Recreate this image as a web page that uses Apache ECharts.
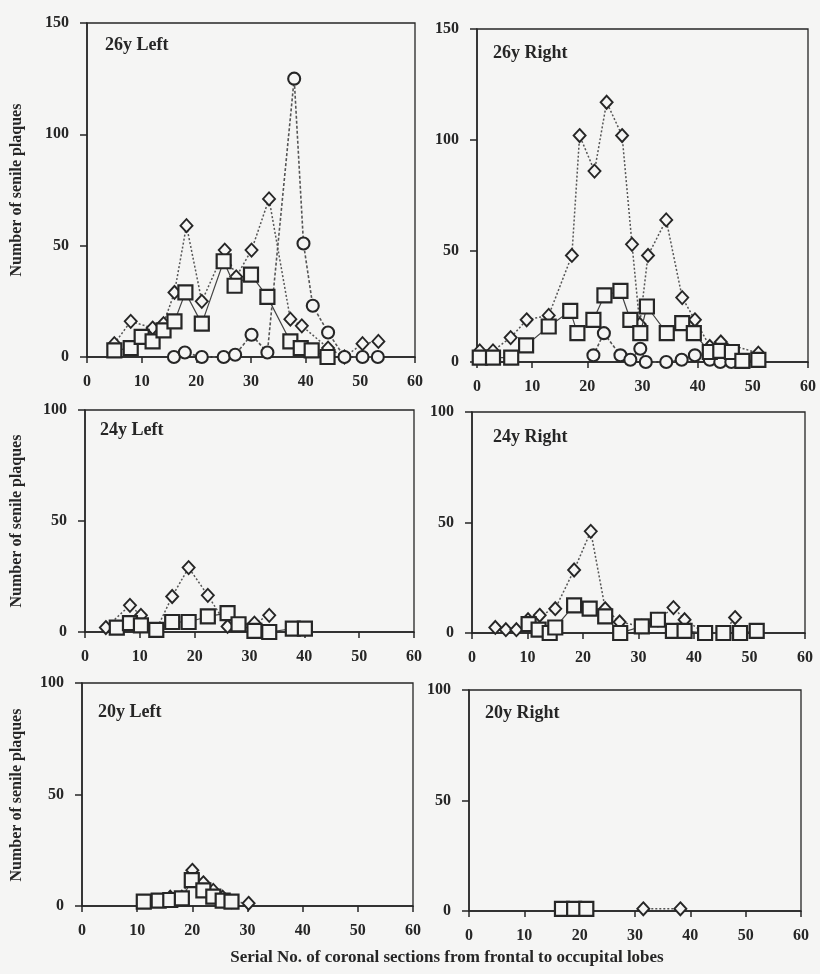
<!DOCTYPE html>
<html>
<head>
<meta charset="utf-8">
<script src="https://cdn.jsdelivr.net/npm/echarts@6/dist/echarts.min.js"></script>
<style>
  html, body { margin: 0; padding: 0; background: #f5f5f4; }
  #chart { width: 820px; height: 974px; }
</style>
</head>
<body>
<div id="chart"></div>
<script>
// [serial no., plaque count] per series
const left26Square = [[5,3],[8,4],[10,9],[12,7],[14,12],[16,16],[18,29],[21,15],[25,43],[27,32],[30,37],[33,27],[37.2,7],[39.1,4],[41.1,3],[44,0]]
const left26Diamond = [[5,6],[8,16],[12,13],[14,15],[16,29],[18.2,59],[21,25],[25.2,48],[27.3,36],[30.1,48],[33.3,71],[37.2,17],[39.3,14],[44.1,4],[47.1,0],[50.4,6],[53.3,7]]
const left26Circle = [[15.9,0],[17.9,2],[21,0],[25,0],[27.1,1],[30.1,10],[33,2],[37.9,125],[39.6,51],[41.3,23],[44.1,11],[47.1,0],[50.4,0],[53.2,0]]

const right26Square = [[0.5,2],[2.9,2],[6.2,2],[8.9,7.5],[13,16],[16.9,23],[18.2,13],[21.1,19],[23.1,30],[26,32],[27.8,19],[29.6,13],[30.8,25],[34.4,13],[37.2,17.5],[39.3,13],[42.2,4.5],[44.1,5],[46.2,4.5],[48.1,0.5],[51,1]]
const right26Diamond = [[0.5,5],[2.9,5],[6.1,11],[9,19],[13,21],[17.2,48],[18.6,102],[21.3,86],[23.5,117],[26.3,102],[28.1,53],[29.5,17],[31,48],[34.3,64],[37.2,29],[39.5,19],[42.2,7],[44.2,9],[51,4]]
const right26Circle = [[21.1,3],[23,13],[26,3],[27.8,1],[29.6,6],[30.6,0],[34.3,0],[37.1,1],[39.5,3],[42.2,1],[44.1,0],[46.1,0]]

const left24Square = [[5.8,2],[8.2,4],[10.2,3],[13,1],[15.9,4.5],[18.9,4.5],[22.4,7],[26,8.5],[28,3.5],[30.9,0.5],[33.6,0],[37.9,1.5],[40.1,1.5]]
const left24Diamond = [[3.8,2],[8.2,12],[10.2,7.5],[13,1],[15.9,16],[18.9,29],[22.4,16.5],[26,2.5],[30.9,4],[33.6,7.5]]

const right24Square = [[10.2,4],[12,1.5],[14,0],[15,2.5],[18.4,12.5],[21.2,11],[24,7.5],[26.7,0],[30.6,3],[33.5,6],[36.2,1],[38.3,1],[42,0],[45.3,0],[48.3,0],[51.3,1]]
const right24Diamond = [[4.2,2.5],[6.1,1.5],[8,1.5],[10.1,6],[12.2,8],[15,11],[18.4,28.5],[21.4,46],[24,11],[26.6,5],[30.6,3],[33.5,6],[36.3,11.5],[38.3,6],[42,0],[45.3,0],[47.4,7]]

const left20Square = [[11.2,2],[13.9,2.4],[16,2.7],[18.1,3.4],[19.9,11.6],[22,7],[23.8,4.2],[25.5,2.4],[27.1,2]]
const left20Diamond = [[16,4],[18.1,4],[20,16],[22,10.4],[23.8,7],[25.5,4],[27.1,2],[30.2,1.2]]

const right20Square = [[16.8,1],[19,1],[21.2,1]]
const right20Diamond = [[31.5,1],[38.2,1]]

const panelTitles = ['26y Left', '26y Right', '24y Left', '24y Right', '20y Left', '20y Right']
const yMax = [150, 150, 100, 100, 100, 100]
const xTicks = [0, 10, 20, 30, 40, 50, 60]

const SERIF = 'Liberation Serif'
const INK = '#262626'
const PAPER = '#f5f5f4'

// 画布布局 (left, top, width, height)
const grids = [
  { left: 87, top: 23, width: 328, height: 334 },
  { left: 477, top: 29, width: 331, height: 333 },
  { left: 85, top: 410, width: 329, height: 222 },
  { left: 472, top: 412, width: 333, height: 221 },
  { left: 82, top: 683, width: 331, height: 223 },
  { left: 469, top: 690, width: 332, height: 221 }
]
const titlePos = [[105, 36], [493, 44], [100, 421], [493, 428], [98, 703], [485, 704]]

const labelStyle = { fontFamily: SERIF, fontWeight: 'bold', fontSize: 16, color: INK }

const makeSeries = (idx, data, kind) => {
  const base = {
    type: 'line',
    xAxisIndex: idx,
    yAxisIndex: idx,
    data: data,
    clip: false,
    animation: false,
    showSymbol: true,
    itemStyle: { color: PAPER, borderColor: INK, borderWidth: 2.2 }
  }
  if (kind === 'square') {
    return Object.assign(base, {
      symbol: 'rect', symbolSize: 14, z: 4,
      lineStyle: { color: '#444', width: 1.2, type: 'solid' }
    })
  }
  if (kind === 'diamond') {
    return Object.assign(base, {
      symbol: 'diamond', symbolSize: [12, 13], z: 2,
      itemStyle: { color: PAPER, borderColor: INK, borderWidth: 1.9 },
      lineStyle: { color: '#555', width: 1.5, type: [2, 2] }
    })
  }
  return Object.assign(base, {
    symbol: 'circle', symbolSize: 12, z: 3,
    itemStyle: { color: PAPER, borderColor: INK, borderWidth: 2.1 },
    lineStyle: { color: '#555', width: 1.6, type: [3, 2] }
  })
}

const getChartOption = () => {
  const xAxis = grids.map((g, i) => ({
    type: 'value', gridIndex: i, min: 0, max: 60, interval: 10,
    axisLine: { show: true, lineStyle: { color: INK, width: 1.5 } },
    axisTick: { show: true, length: 6, lineStyle: { color: INK, width: 1.5 } },
    axisLabel: Object.assign({ margin: 17 }, labelStyle),
    splitLine: { show: false }
  }))
  const yAxis = grids.map((g, i) => ({
    type: 'value', gridIndex: i, min: 0, max: yMax[i], interval: 50,
    axisLine: { show: true, lineStyle: { color: INK, width: 1.5 } },
    axisTick: { show: true, length: 7, lineStyle: { color: INK, width: 1.5 } },
    axisLabel: Object.assign({ margin: 18 }, labelStyle),
    splitLine: { show: false }
  }))
  const series = [
    makeSeries(0, left26Diamond, 'diamond'), makeSeries(0, left26Circle, 'circle'), makeSeries(0, left26Square, 'square'),
    makeSeries(1, right26Diamond, 'diamond'), makeSeries(1, right26Circle, 'circle'), makeSeries(1, right26Square, 'square'),
    makeSeries(2, left24Diamond, 'diamond'), makeSeries(2, left24Square, 'square'),
    makeSeries(3, right24Diamond, 'diamond'), makeSeries(3, right24Square, 'square'),
    makeSeries(4, left20Diamond, 'diamond'), makeSeries(4, left20Square, 'square'),
    makeSeries(5, right20Diamond, 'diamond'), makeSeries(5, right20Square, 'square')
  ]
  const title = panelTitles.map((t, i) => ({
    text: t, left: titlePos[i][0], top: titlePos[i][1], padding: 0,
    textStyle: { fontFamily: SERIF, fontWeight: 'bold', fontSize: 18, color: INK }
  }))
  // y 轴名称和底部说明
  const yNameCenters = [190, 521, 795]
  const graphic = yNameCenters.map(cy => ({
    type: 'text', x: 17, y: cy, rotation: Math.PI / 2,
    style: {
      text: 'Number of senile plaques', fontFamily: SERIF, fontWeight: 'bold', fontSize: 16,
      fill: INK, align: 'center', verticalAlign: 'middle'
    }
  }))
  graphic.push({
    type: 'text', x: 447, y: 958,
    style: {
      text: 'Serial No. of coronal sections from frontal to occupital lobes',
      fontFamily: SERIF, fontWeight: 'bold', fontSize: 17, fill: INK,
      align: 'center', verticalAlign: 'middle'
    }
  })
  return {
    backgroundColor: PAPER,
    animation: false,
    title,
    grid: grids.map(g => Object.assign({ show: true, borderColor: INK, borderWidth: 1.3, backgroundColor: 'transparent' }, g)),
    xAxis,
    yAxis,
    series,
    graphic
  }
}

const chartInstance = echarts.init(document.getElementById('chart'))
chartInstance.setOption(getChartOption())
</script>
</body>
</html>
